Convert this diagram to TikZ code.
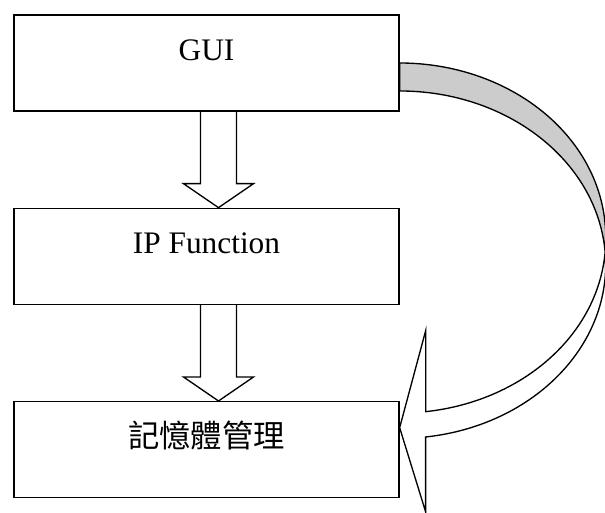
\documentclass[tikz,border=0pt]{standalone}
\usepackage{fontspec}
\setmainfont{Liberation Serif}
\newfontfamily\cjk{Noto Sans CJK TC}
\usetikzlibrary{positioning,calc}
\newcommand{\blockdown}[2]{%
  \draw[blockarr] ($(#1.south)+(-6,0)$) -- ($(#2.north)+(-6,-24)$)
    -- ($(#2.north)+(-23,-24)$) -- ($(#2.north)+(12,0)$)
    -- ($(#2.north)+(47,-24)$) -- ($(#2.north)+(30,-24)$)
    -- ($(#1.south)+(30,0)$);}

\begin{document}
\begin{tikzpicture}[
  x=0.6pt, y=-0.6pt,
  line width=0.8pt,
  box/.style={draw, rectangle, minimum width=231pt, minimum height=57.6pt,
    text height=12pt, text depth=14.8pt, inner sep=0pt,
    font=\fontsize{18.8}{22}\selectfont},
  blockarr/.style={draw, line join=miter},
  node distance=57.6pt
]
\useasboundingbox (0,0) rectangle (605,513);
\node[box] (gui) at (206.5,63) {GUI};
\node[box, below=of gui] (ipf) {IP Function};
\node[box, below=of ipf] (mem) {\cjk 記憶體管理};
\blockdown{gui}{ipf}
\blockdown{ipf}{mem}
\draw[fill=gray!40] (gui.east)
  arc[start angle=-90, end angle=4.62, x radius=206, y radius=173.7] coordinate (meet)
  arc[start angle=-4.62, end angle=-90, x radius=206, y radius=173.7] -- cycle;
\draw[fill=white] (meet)
  arc[start angle=-4.62, end angle=82.75, x radius=206, y radius=173.7]
  -- ++(0,75) -- ($(mem.east)+(0,-22)$) -- ++(26,-97) -- ++(0,81)
  arc[start angle=82.75, end angle=4.62, x radius=206, y radius=173.7] -- cycle;
\end{tikzpicture}
\end{document}
